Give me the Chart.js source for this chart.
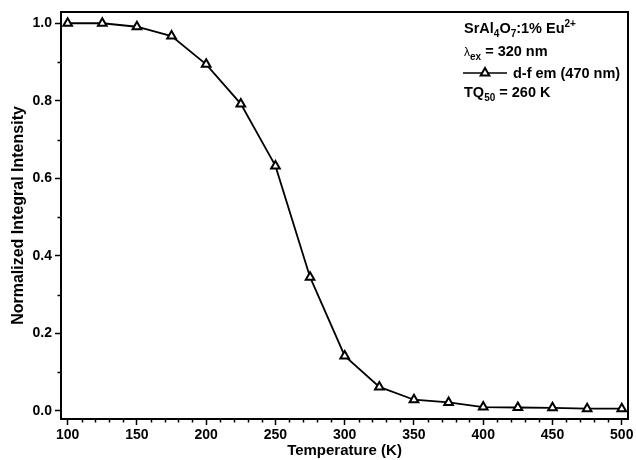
<!DOCTYPE html>
<html>
<head>
<meta charset="utf-8">
<script src="https://cdn.jsdelivr.net/npm/chart.js@4/dist/chart.umd.min.js"></script>
<style>
  html, body { margin: 0; padding: 0; background: #fff; }
  #wrap { width: 636px; height: 460px; }
</style>
</head>
<body>
<div id="wrap"><canvas id="c" width="636" height="460"></canvas></div>
<script>
// temperatures (K) and normalized integral intensity of the d-f emission
const temps = [100, 125, 150, 175, 200, 225, 250, 275, 300, 325, 350, 375, 400, 425, 450, 475, 500]
const intensity = [1.0, 1.0, 0.991, 0.967, 0.894, 0.792, 0.632, 0.345, 0.142, 0.062, 0.029, 0.022, 0.010, 0.009, 0.008, 0.006, 0.006]

const xMajor = [100, 150, 200, 250, 300, 350, 400, 450, 500]
const yMajor = [0, 0.2, 0.4, 0.6, 0.8, 1.0]
const xMinorStep = 10
const yMinorStep = 0.1

const FONT = "'Liberation Sans', Arial, sans-serif"
Chart.defaults.font.family = FONT
Chart.defaults.color = "#000"

// frame, minor ticks and the text block in the upper right
const decor = {
    id: "decor",
    afterDraw(chart) {
        const ctx = chart.ctx
        const a = chart.chartArea
        const xs = chart.scales.x
        const ys = chart.scales.y
        ctx.save()
        ctx.strokeStyle = "#000"

        // minor ticks
        ctx.lineWidth = 1.5
        ctx.beginPath()
        for (let v = 100; v <= 500; v += xMinorStep) {
            if (v % 50 === 0) continue
            const px = Math.round(xs.getPixelForValue(v)) + 0.5
            ctx.moveTo(px, a.bottom)
            ctx.lineTo(px, a.bottom + 3.5)
        }
        for (let i = 0; i <= 10; i++) {
            if (i % 2 === 0) continue
            const py = Math.round(ys.getPixelForValue(i * yMinorStep)) + 0.5
            ctx.moveTo(a.left, py)
            ctx.lineTo(a.left - 3.5, py)
        }
        ctx.stroke()

        // box
        ctx.lineWidth = 2
        ctx.strokeRect(a.left, a.top, a.right - a.left, a.bottom - a.top)

        // text block
        const x0 = 464
        ctx.fillStyle = "#000"
        ctx.textBaseline = "alphabetic"
        ctx.textAlign = "left"
        const big = "bold 14.5px " + FONT
        const small = "bold 10px " + FONT
        function run(parts, x, y) {
            parts.forEach(p => {
                ctx.font = p.f
                ctx.fillText(p.t, x, y + (p.dy || 0))
                x += ctx.measureText(p.t).width
            })
            return x
        }
        run([
            {t: "SrAl", f: big}, {t: "4", f: small, dy: 4},
            {t: "O", f: big}, {t: "7", f: small, dy: 4},
            {t: ":1% Eu", f: big}, {t: "2+", f: small, dy: -6}
        ], x0, 33)
        run([
            {t: "\u03bb", f: "12px " + FONT}, {t: "ex", f: small, dy: 4},
            {t: " = 320 nm", f: big}
        ], x0, 56)

        // legend sample
        ctx.lineWidth = 1.5
        ctx.beginPath()
        ctx.moveTo(463, 73)
        ctx.lineTo(507, 73)
        ctx.stroke()
        ctx.fillStyle = "#fff"
        ctx.lineWidth = 2
        Chart.helpers.drawPoint(ctx, {pointStyle: "triangle", radius: 5, rotation: 0, borderWidth: 2}, 485, 73)
        ctx.fillStyle = "#000"
        run([{t: "d-f em (470 nm)", f: big}], 513, 78)

        run([
            {t: "TQ", f: big}, {t: "50", f: small, dy: 4},
            {t: " = 260 K", f: big}
        ], x0, 97)
        ctx.restore()
    }
}

new Chart(document.getElementById("c"), {
    type: "line",
    data: {
        datasets: [{
            label: "d-f em (470 nm)",
            data: temps.map((t, i) => ({x: t, y: intensity[i]})),
            borderColor: "#000",
            borderWidth: 1.8,
            backgroundColor: "#fff",
            pointStyle: "triangle",
            pointRadius: 5,
            pointBorderWidth: 2,
            pointBorderColor: "#000",
            pointBackgroundColor: "#fff",
            tension: 0
        }]
    },
    options: {
        responsive: false,
        animation: false,
        layout: { padding: { left: 0, right: 8, top: 12, bottom: 0 } },
        plugins: { legend: { display: false }, tooltip: { enabled: false } },
        scales: {
            x: {
                type: "linear",
                min: 95.2,
                max: 504.5,
                afterBuildTicks(s) { s.ticks = xMajor.map(v => ({value: v})) },
                afterFit(s) { s.height = 41 },
                ticks: { font: { size: 14, weight: "bold" }, padding: 2, maxRotation: 0 },
                grid: { drawOnChartArea: false, tickLength: 6, tickColor: "#000", tickWidth: 1.5 },
                border: { display: false },
                title: { display: true, text: "Temperature (K)", font: { size: 15, weight: "bold" }, padding: { top: 0, bottom: 0 } }
            },
            y: {
                min: -0.0207,
                max: 1.029,
                afterBuildTicks(s) { s.ticks = yMajor.map(v => ({value: v})) },
                afterFit(s) { s.width = 61 },
                ticks: { font: { size: 14, weight: "bold" }, padding: 3, callback: v => v.toFixed(1) },
                grid: { drawOnChartArea: false, tickLength: 6, tickColor: "#000", tickWidth: 1.5 },
                border: { display: false },
                title: { display: true, text: "Normalized Integral Intensity", font: { size: 16, weight: "bold" }, padding: { top: 9, bottom: 0 } }
            }
        }
    },
    plugins: [decor]
})
</script>
</body>
</html>
